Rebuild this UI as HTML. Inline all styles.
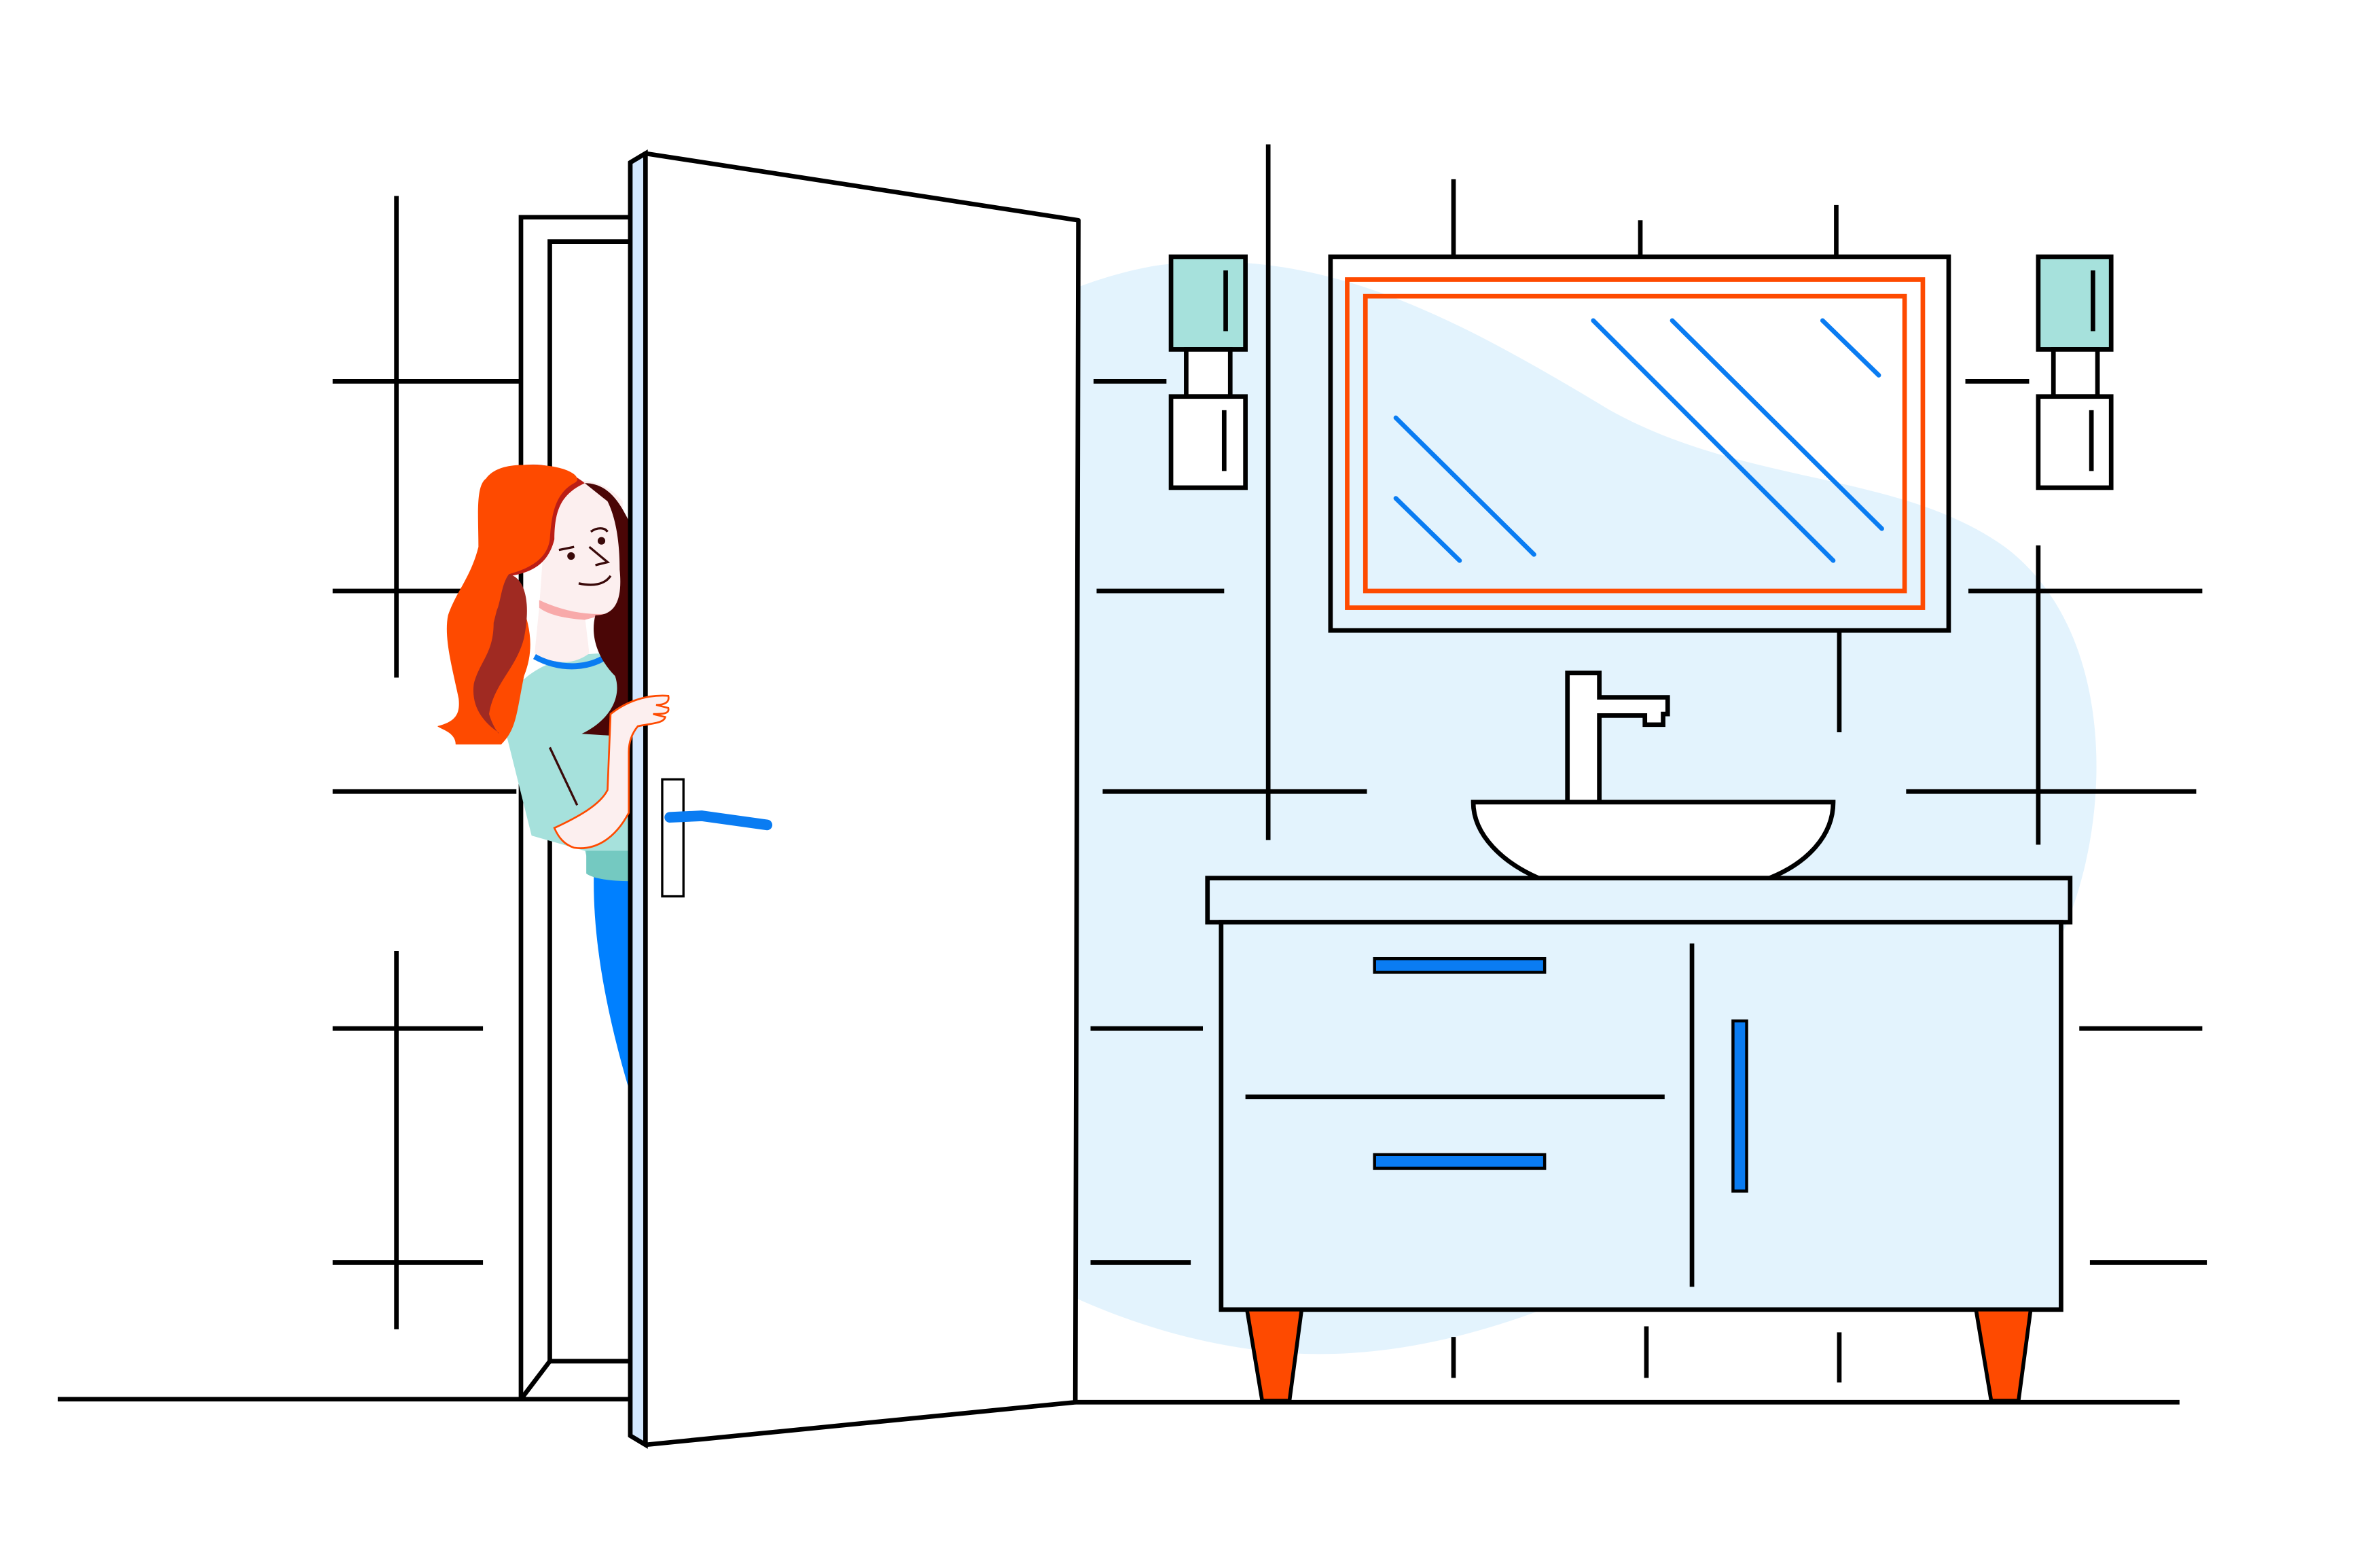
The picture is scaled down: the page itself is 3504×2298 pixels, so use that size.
<!DOCTYPE html>
<html><head><meta charset="utf-8"><style>html,body{margin:0;padding:0;background:#fff}svg{display:block}</style></head>
<body>
<svg width="3504" height="2298" viewBox="0 0 1567 1027.5" preserveAspectRatio="none" xmlns="http://www.w3.org/2000/svg">
<rect width="1570" height="1030" fill="#fff"/>
<path d="M760,175 C870,160 960,210 1060,270 C1150,320 1250,310 1320,360 C1400,420 1390,560 1350,630 C1300,710 1230,740 1160,790 C1060,850 950,900 840,890 C730,880 630,820 590,770 C530,690 510,580 515,470 C520,330 620,200 760,175 Z" fill="#e3f3fd"/>
<g stroke="#000" stroke-width="3" fill="none">
<line x1="261" y1="129" x2="261" y2="446"/><line x1="261" y1="626" x2="261" y2="875"/>
<line x1="219" y1="251" x2="343" y2="251"/><line x1="219" y1="389" x2="310" y2="389"/>
<line x1="219" y1="521" x2="340" y2="521"/><line x1="219" y1="677" x2="318" y2="677"/><line x1="219" y1="831" x2="318" y2="831"/>
<line x1="835" y1="95" x2="835" y2="553"/>
<line x1="720" y1="251" x2="768" y2="251"/><line x1="722" y1="389" x2="806" y2="389"/>
<line x1="726" y1="521" x2="900" y2="521"/><line x1="718" y1="677" x2="792" y2="677"/><line x1="718" y1="831" x2="784" y2="831"/>
<line x1="1342" y1="359" x2="1342" y2="556"/>
<line x1="1294" y1="251" x2="1336" y2="251"/><line x1="1296" y1="389" x2="1450" y2="389"/>
<line x1="1255" y1="521" x2="1446" y2="521"/><line x1="1369" y1="677" x2="1450" y2="677"/><line x1="1376" y1="831" x2="1453" y2="831"/>
<line x1="957" y1="118" x2="957" y2="169"/><line x1="1080" y1="145" x2="1080" y2="169"/><line x1="1209" y1="135" x2="1209" y2="169"/>
<line x1="1211" y1="415" x2="1211" y2="482"/>
<line x1="957" y1="880" x2="957" y2="907"/><line x1="1084" y1="873" x2="1084" y2="907"/><line x1="1211" y1="877" x2="1211" y2="910"/>
<line x1="38" y1="921" x2="415" y2="921"/><line x1="708" y1="923" x2="1435" y2="923"/>
<polyline points="343,921 343,143 415,143"/>
<polyline points="415,159 362,159 362,896 415,896"/>
<line x1="362" y1="896" x2="343" y2="921"/>
</g>
<path d="M391,575 L415,575 L415,720 C400,670 390,620 391,575 Z" fill="#0080ff"/>
<path d="M330,470 C340,440 370,430 400,430 L415,430 L415,580 L390,575 L385,560 L350,550 Z" fill="#a6e1dc"/>
<path d="M386,560 L415,560 L415,580 C400,580 390,578 386,575 Z" fill="#74c9c1"/>
<path d="M352,432 C370,442 390,440 402,430" stroke="#0a7cf2" stroke-width="4" fill="none"/>
<path d="M360,330 C370,312 395,312 410,330 L410,400 C400,405 390,406 385,405 L388,430 C375,440 360,435 352,430 L355,400 Z" fill="#fcefef"/>
<path d="M355,395 C370,402 385,405 400,404 L385,408 C370,407 360,404 355,400 Z" fill="#f8aaaa"/>
<path d="M385,318 C400,318 408,330 415,345 L415,485 L383,483 C400,475 410,460 405,445 C395,435 388,420 392,405 C405,405 410,395 408,375 C408,355 405,340 400,330 Z" fill="#4a0606"/>
<path d="M330,310 C355,300 375,310 385,318 C370,325 365,335 365,355 C360,375 345,378 330,380 Z" fill="#bb1e16"/>
<path d="M345,306 C375,305 385,315 378,318 C365,325 363,340 362,355 C360,370 345,375 335,378 C345,400 355,420 345,445 C340,470 340,480 330,490 C315,490 305,490 300,490 C300,482 290,480 288,478 C300,475 303,470 302,460 C298,440 292,420 295,405 C300,390 310,380 315,360 C315,340 313,320 320,315 C325,308 335,306 345,306 Z" fill="#fe4a00"/>
<path d="M335,378 C345,380 350,395 345,420 C340,440 325,450 322,470 C325,480 330,485 328,482 C318,475 310,465 312,450 C316,435 325,430 325,410 L327,402 C330,395 330,385 335,378 Z" fill="#a02a22"/>
<line x1="362" y1="492" x2="380" y2="530" stroke="#3a0a0a" stroke-width="1.5"/>
<g stroke="#3a0a0a" stroke-width="1.5" fill="none">
<path d="M368,362 L378,360"/><path d="M389,350 C393,347 398,347 400,350"/><path d="M388,360 L400,370 L392,372"/><path d="M381,384 C390,386 398,385 402,379"/>
</g>
<circle cx="376" cy="366" r="2.5" fill="#3a0a0a"/><circle cx="396" cy="356" r="2.5" fill="#3a0a0a"/>
<polygon points="415,107 425,101 710,145 708,923 425,951 415,945" fill="#fff" stroke="#000" stroke-width="3" stroke-linejoin="round"/>
<polygon points="415,107 425,101 425,951 415,945" fill="#d3e7fd" stroke="#000" stroke-width="3"/>
<path d="M365,545 C380,538 395,530 400,520 L402,470 C412,462 425,457 440,458 C441,462 438,464 432,464 L440,466 C441,470 436,470 430,470 L438,472 C437,476 430,476 420,478 C415,484 414,490 414,495 L414,535 C405,552 392,560 378,558 C372,556 368,552 365,545 Z" fill="#fcefef" stroke="#fe4a00" stroke-width="1.2"/>
<rect x="436" y="513" width="14" height="77" fill="#fff" stroke="#000" stroke-width="1.5"/>
<polyline points="441,538 462,537 505,543" stroke="#0a7cf2" stroke-width="7" fill="none" stroke-linecap="round"/>
<rect x="876" y="169" width="407" height="246" fill="none" stroke="#000" stroke-width="3"/>
<rect x="887" y="184" width="379" height="216" fill="none" stroke="#fe4a00" stroke-width="3"/>
<rect x="899" y="195" width="355" height="194" fill="none" stroke="#fe4a00" stroke-width="3"/>
<g stroke="#0a7cf2" stroke-width="3" stroke-linecap="round">
<line x1="1049" y1="211" x2="1207" y2="369"/><line x1="1101" y1="211" x2="1239" y2="348"/><line x1="1200" y1="211" x2="1237" y2="247"/>
<line x1="919" y1="275" x2="1010" y2="365"/><line x1="919" y1="328" x2="961" y2="369"/>
</g>
<g stroke="#000" stroke-width="3">
<rect x="771" y="169" width="49" height="61" fill="#a6e1dc"/><rect x="781" y="230" width="29" height="31" fill="#fff"/><rect x="771" y="261" width="49" height="60" fill="#fff"/>
<line x1="807" y1="178" x2="807" y2="218"/><line x1="806" y1="270" x2="806" y2="310"/>
<rect x="1342" y="169" width="48" height="61" fill="#a6e1dc"/><rect x="1352" y="230" width="29" height="31" fill="#fff"/><rect x="1342" y="261" width="48" height="60" fill="#fff"/>
<line x1="1378" y1="178" x2="1378" y2="218"/><line x1="1377" y1="270" x2="1377" y2="310"/>
</g>
<path d="M1032,527 L1032,443 L1053,443 L1053,459 L1098,459 L1098,470 L1095,470 L1095,477 L1083,477 L1083,471 L1053,471 L1053,527" fill="#fff" stroke="#000" stroke-width="3"/>
<path d="M970,528 L1207,528 C1207,550 1190,568 1165,578 L1013,578 C990,568 970,550 970,528 Z" fill="#fff" stroke="#000" stroke-width="3"/>
<rect x="795" y="578" width="568" height="29" fill="#e3f3fd" stroke="#000" stroke-width="3"/>
<rect x="804" y="607" width="553" height="255" fill="#e3f3fd" stroke="#000" stroke-width="3"/>
<line x1="1114" y1="621" x2="1114" y2="847" stroke="#000" stroke-width="3"/>
<line x1="820" y1="722" x2="1096" y2="722" stroke="#000" stroke-width="3"/>
<g fill="#0a7cf2" stroke="#000" stroke-width="2">
<rect x="905" y="631" width="112" height="9"/><rect x="905" y="760" width="112" height="9"/><rect x="1141" y="672" width="9" height="112"/>
</g>
<g fill="#fe4a00" stroke="#000" stroke-width="2.5">
<polygon points="821,862 857,862 849,922 831,922"/><polygon points="1301,862 1337,862 1329,922 1311,922"/>
</g>
</svg>
</body></html>
